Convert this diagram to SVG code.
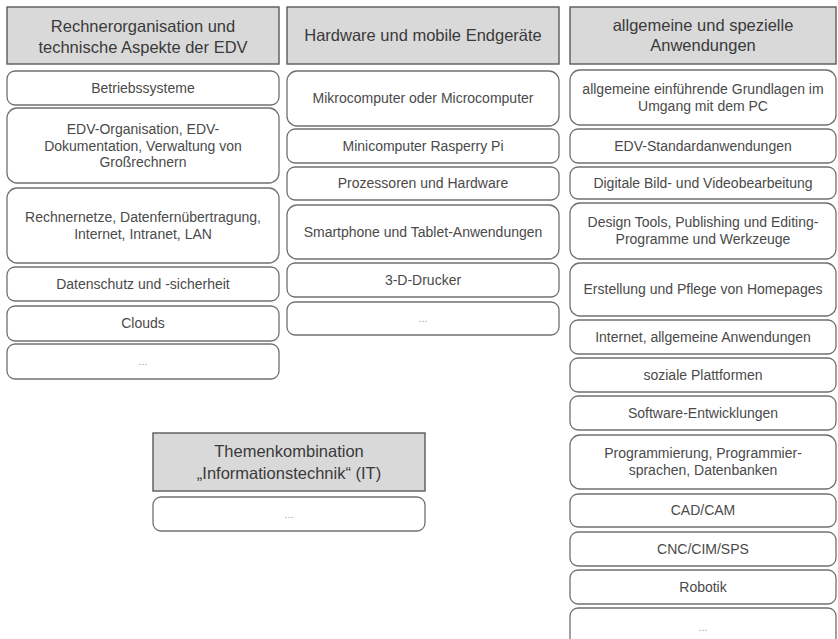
<svg xmlns="http://www.w3.org/2000/svg" width="838" height="639" viewBox="0 0 838 639">
<style>
.hd{fill:#d9d9d9;stroke:#5a5a5a;stroke-width:1.4}
.bx{fill:#ffffff;stroke:#707070;stroke-width:1.3}
.ht{font-family:"Liberation Sans",Arial,sans-serif;font-size:16.5px;fill:#3a3a3a;text-anchor:middle}
.it{font-family:"Liberation Sans",Arial,sans-serif;font-size:14px;fill:#4a4a4a;text-anchor:middle}
.el{font-family:"Liberation Sans",Arial,sans-serif;font-size:11px;fill:#a0a0a0;text-anchor:middle}
</style>
<rect width="838" height="639" fill="#ffffff"/>
<g id="connectors"/>
<!-- Column 1 -->
<g id="h1"><rect class="hd" x="7" y="7" width="272" height="57"/><text class="ht" x="143" y="32">Rechnerorganisation und</text><text class="ht" x="143" y="53">technische Aspekte der EDV</text></g>
<g id="c1a"><rect class="bx" x="7" y="71" width="272" height="34" rx="8"/><text class="it" x="143" y="93">Betriebssysteme</text></g>
<g id="c1b"><rect class="bx" x="7" y="108" width="272" height="75" rx="10"/><text class="it" x="143" y="134">EDV-Organisation, EDV-</text><text class="it" x="143" y="150.5">Dokumentation, Verwaltung von</text><text class="it" x="143" y="167">Großrechnern</text></g>
<g id="c1c"><rect class="bx" x="7" y="188" width="272" height="75" rx="10"/><text class="it" x="143" y="222">Rechnernetze,  Datenfernübertragung,</text><text class="it" x="143" y="238.5">Internet,  Intranet,  LAN</text></g>
<g id="c1d"><rect class="bx" x="7" y="267" width="272" height="34" rx="8"/><text class="it" x="143" y="289">Datenschutz  und  -sicherheit</text></g>
<g id="c1e"><rect class="bx" x="7" y="306" width="272" height="35" rx="8"/><text class="it" x="143" y="328">Clouds</text></g>
<g id="c1f"><rect class="bx" x="7" y="344" width="272" height="35" rx="8"/><text class="el" x="143" y="365">...</text></g>
<!-- Column 2 -->
<g id="h2"><rect class="hd" x="287" y="7" width="272" height="57"/><text class="ht" x="423" y="41">Hardware und mobile Endgeräte</text></g>
<g id="c2a"><rect class="bx" x="287" y="71" width="272" height="55" rx="10"/><text class="it" x="423" y="103">Mikrocomputer oder Microcomputer</text></g>
<g id="c2b"><rect class="bx" x="287" y="129" width="272" height="34" rx="8"/><text class="it" x="423" y="151">Minicomputer Rasperry Pi</text></g>
<g id="c2c"><rect class="bx" x="287" y="167" width="272" height="33" rx="8"/><text class="it" x="423" y="188">Prozessoren und Hardware</text></g>
<g id="c2d"><rect class="bx" x="287" y="205" width="272" height="54" rx="10"/><text class="it" x="423" y="237">Smartphone und Tablet-Anwendungen</text></g>
<g id="c2e"><rect class="bx" x="287" y="263" width="272" height="34" rx="8"/><text class="it" x="423" y="285">3-D-Drucker</text></g>
<g id="c2f"><rect class="bx" x="287" y="302" width="272" height="33" rx="8"/><text class="el" x="423" y="322">...</text></g>
<!-- Column 3 -->
<g id="h3"><rect class="hd" x="570" y="7" width="266" height="57"/><text class="ht" x="703" y="31">allgemeine und spezielle</text><text class="ht" x="703" y="51">Anwendungen</text></g>
<g id="c3a"><rect class="bx" x="570" y="70" width="266" height="55" rx="10"/><text class="it" x="703" y="94">allgemeine einführende  Grundlagen im</text><text class="it" x="703" y="110.5">Umgang mit dem PC</text></g>
<g id="c3b"><rect class="bx" x="570" y="129" width="266" height="34" rx="8"/><text class="it" x="703" y="151">EDV-Standardanwendungen</text></g>
<g id="c3c"><rect class="bx" x="570" y="167" width="266" height="32" rx="8"/><text class="it" x="703" y="188">Digitale Bild- und Videobearbeitung</text></g>
<g id="c3d"><rect class="bx" x="570" y="203" width="266" height="56" rx="10"/><text class="it" x="703" y="227">Design Tools, Publishing und Editing-</text><text class="it" x="703" y="243.5">Programme und Werkzeuge</text></g>
<g id="c3e"><rect class="bx" x="570" y="263" width="266" height="53" rx="10"/><text class="it" x="703" y="294">Erstellung und Pflege von Homepages</text></g>
<g id="c3f"><rect class="bx" x="570" y="320" width="266" height="34" rx="8"/><text class="it" x="703" y="342">Internet,  allgemeine Anwendungen</text></g>
<g id="c3g"><rect class="bx" x="570" y="358" width="266" height="34" rx="8"/><text class="it" x="703" y="380">soziale Plattformen</text></g>
<g id="c3h"><rect class="bx" x="570" y="396" width="266" height="34" rx="8"/><text class="it" x="703" y="418">Software-Entwicklungen</text></g>
<g id="c3i"><rect class="bx" x="570" y="435" width="266" height="54" rx="10"/><text class="it" x="703" y="458">Programmierung, Programmier-</text><text class="it" x="703" y="474.5">sprachen, Datenbanken</text></g>
<g id="c3j"><rect class="bx" x="570" y="494" width="266" height="33" rx="8"/><text class="it" x="703" y="515">CAD/CAM</text></g>
<g id="c3k"><rect class="bx" x="570" y="532" width="266" height="34" rx="8"/><text class="it" x="703" y="554">CNC/CIM/SPS</text></g>
<g id="c3l"><rect class="bx" x="570" y="570" width="266" height="34" rx="8"/><text class="it" x="703" y="592">Robotik</text></g>
<g id="c3m"><rect class="bx" x="570" y="608" width="266" height="38" rx="8"/><text class="el" x="703" y="631">...</text></g>
<!-- Themenkombination -->
<g id="h4"><rect class="hd" x="153" y="433" width="272" height="58"/><text class="ht" x="289" y="457">Themenkombination</text><text class="ht" x="289" y="479">„Informationstechnik“ (IT)</text></g>
<g id="c4a"><rect class="bx" x="153" y="497" width="272" height="34" rx="8"/><text class="el" x="289" y="518">...</text></g>
</svg>
